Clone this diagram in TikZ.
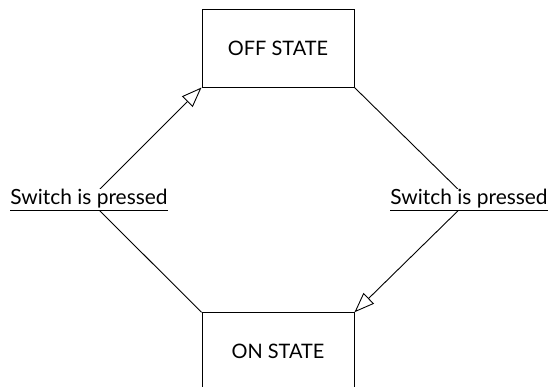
\documentclass[tikz,border=0pt]{standalone}
\usepackage{fontspec}
\setmainfont{Lato}
\usetikzlibrary{arrows.meta}
\tikzset{
  statebox/.style={draw, line width=1bp, minimum width=152bp, minimum height=77.5bp, inner sep=0pt, font=\fontsize{20}{22}\selectfont},
  trans/.style={fill=white, inner xsep=1bp, inner ysep=0.5bp, font=\fontsize{21}{23}\selectfont},
  conn/.style={line width=0.9bp},
  opentip/.style={-{Triangle[open, length=20bp, width=15bp, line width=0.9bp]}}
}
\begin{document}
\begin{tikzpicture}[x=1bp, y=-1bp]
\useasboundingbox (0,0) rectangle (549,386);
\node[statebox] (off) at (278,48.25) {OFF STATE};
\node[statebox] (on) at (278,351.5) {ON STATE};
\coordinate (vl) at (89,200);
\coordinate (vr) at (469,200);
\draw[conn, opentip] (on.north west) -- (vl) -- (off.south west);
\draw[conn, opentip] (off.south east) -- (vr) -- (on.north east);
\node[trans] (lblL) at (vl) {\underline{Switch is pressed}};
\node[trans] (lblR) at (vr) {\underline{Switch is pressed}};
\end{tikzpicture}
\end{document}
